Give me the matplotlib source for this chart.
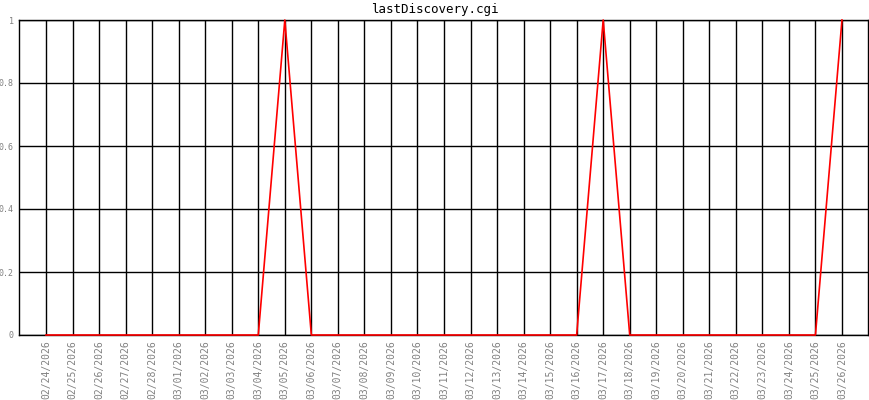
import matplotlib
matplotlib.use('Agg')
import matplotlib.pyplot as plt

# Data
dates = ['02/24/2026', '02/25/2026', '02/26/2026', '02/27/2026', '02/28/2026',
         '03/01/2026', '03/02/2026', '03/03/2026', '03/04/2026', '03/05/2026',
         '03/06/2026', '03/07/2026', '03/08/2026', '03/09/2026', '03/10/2026',
         '03/11/2026', '03/12/2026', '03/13/2026', '03/14/2026', '03/15/2026',
         '03/16/2026', '03/17/2026', '03/18/2026', '03/19/2026', '03/20/2026',
         '03/21/2026', '03/22/2026', '03/23/2026', '03/24/2026', '03/25/2026',
         '03/26/2026']
values = [0, 0, 0, 0, 0, 0, 0, 0, 0, 1,
          0, 0, 0, 0, 0, 0, 0, 0, 0, 0,
          0, 1, 0, 0, 0, 0, 0, 0, 0, 0,
          1]
y_ticks = [0, 0.2, 0.4, 0.6, 0.8, 1]

plt.rcParams['font.family'] = ['DejaVu Sans Mono']

fig = plt.figure(figsize=(8.7, 4.0), dpi=100)
ax = fig.add_axes([19.5 / 870, 1 - 335 / 400, 849 / 870, 315 / 400])

x = list(range(len(dates)))
ax.plot(x, values, color='red', linewidth=1.2, zorder=3, clip_on=False)

ax.set_xlim(-1, len(dates))
ax.set_ylim(0, 1)
ax.set_xticks(x)
ax.set_xticklabels(dates, rotation=90, fontsize=7, color='#808080')
ax.set_yticks(y_ticks)
ax.set_yticklabels([f'{t:g}' for t in y_ticks], fontsize=6, color='#808080')
ax.tick_params(axis='x', length=0, pad=4)
ax.tick_params(axis='y', length=0, pad=4)
ax.grid(True, color='black', linewidth=1)
ax.set_axisbelow(True)
for s in ax.spines.values():
    s.set_color('black')
    s.set_linewidth(1)

fig.text(0.5, 1 - 9 / 400, 'lastDiscovery.cgi', ha='center', va='center',
         fontsize=9, color='black')

fig.savefig('out.png', dpi=100)
